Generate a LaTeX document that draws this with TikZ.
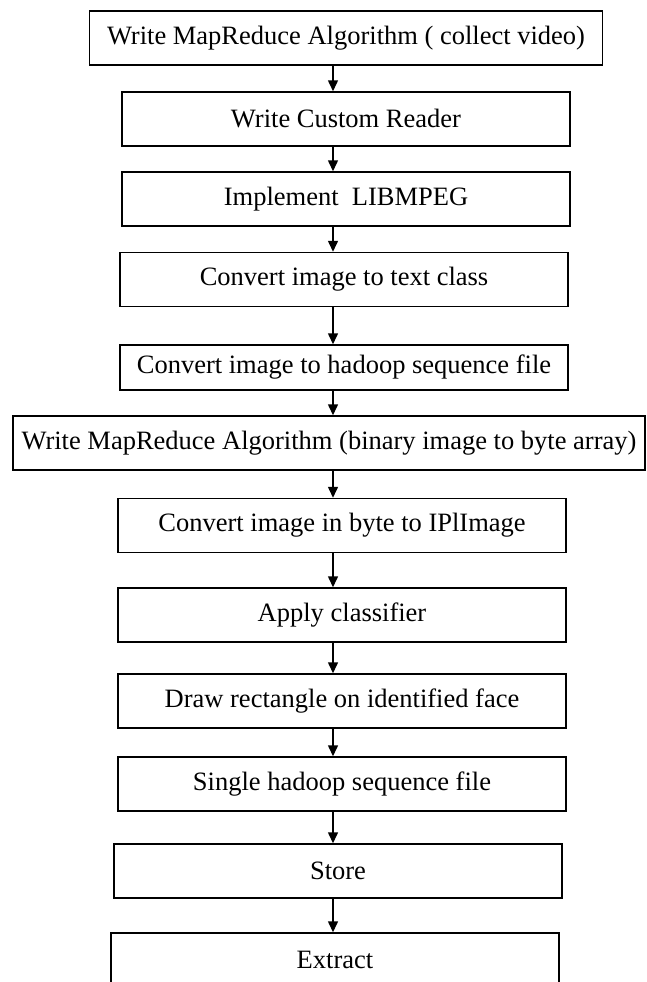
\documentclass[tikz,border=0pt]{standalone}
\usepackage{fontspec}
\setmainfont{Liberation Serif}
\usetikzlibrary{arrows.meta}

\tikzset{
	stepbox/.style={draw, line width=1.5pt, minimum width=448pt, minimum height=54pt,
		inner sep=0pt, font=\fontsize{26.5}{30}\selectfont},
	flow/.style={->, line width=1.5pt}
}

\begin{document}
\begin{tikzpicture}[x=1pt, y=1pt, node distance=81pt, >={Triangle[length=11pt,width=10pt]}]
	\clip (0,0) rectangle (646,-982);
	\node[stepbox, minimum width=513pt] (collect) at (346,-38) {Write MapReduce Algorithm ( collect video)};
	\node[stepbox] (reader) [below of=collect] {Write Custom Reader};
	\node[stepbox] (libmpeg) [node distance=80pt, below of=reader] {Implement\ \ LIBMPEG};
	\node[stepbox] (text) [node distance=80.5pt, below of=libmpeg, xshift=-2pt] {Convert image to text class};
	\node[stepbox, minimum height=45pt] (seqfile) [node distance=88pt, below of=text] {Convert image to hadoop sequence file};
	\node[stepbox, minimum width=632pt] (bytes) [node distance=75.5pt, below of=seqfile, xshift=-15pt] {Write MapReduce Algorithm (binary image to byte array)};
	\node[stepbox] (ipl) [node distance=82.5pt, below of=bytes, xshift=13pt] {Convert image in byte to IPlImage};
	\node[stepbox] (classify) [node distance=89.5pt, below of=ipl] {Apply classifier};
	\node[stepbox] (face) [node distance=86pt, below of=classify] {Draw rectangle on identified face};
	\node[stepbox] (single) [node distance=83pt, below of=face] {Single hadoop sequence file};
	\node[stepbox] (store) [node distance=87pt, below of=single, xshift=-4pt] {Store};
	\node[stepbox] (extract) [node distance=89pt, below of=store, xshift=-3pt] {Extract};
	% all arrows run down one vertical line
	\coordinate (axis) at (333,0);
	\foreach \a/\b in {collect/reader, reader/libmpeg, libmpeg/text, text/seqfile, seqfile/bytes,
		bytes/ipl, ipl/classify, classify/face, face/single, single/store, store/extract}
		\draw[flow] (axis |- \a.south) -- (axis |- \b.north);
\end{tikzpicture}
\end{document}
